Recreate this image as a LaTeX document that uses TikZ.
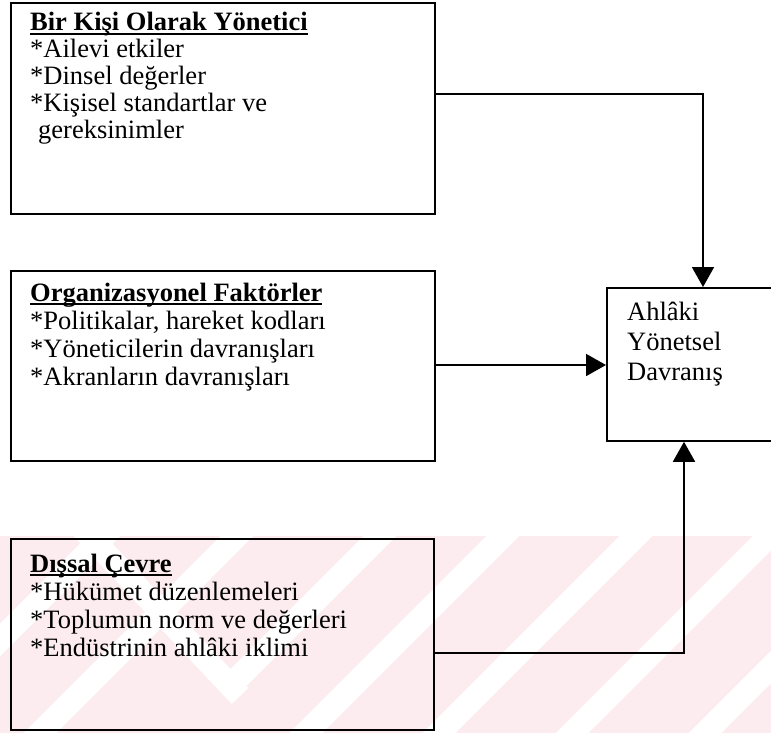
\documentclass[tikz,border=0pt]{standalone}
\usepackage{fontspec}
\setmainfont{Liberation Serif}
\usetikzlibrary{arrows.meta}
\definecolor{wmpink}{RGB}{252,236,239}
\newcommand\myul[1]{\setbox0\hbox{#1}\rlap{\rule[-4pt]{\wd0}{1.7pt}}\box0}
\tikzset{
  box/.style={draw=black, line width=1.8pt, rectangle, inner sep=0pt, anchor=north west},
  txt/.style={anchor=base west, inner sep=0pt, align=left, font=\fontsize{26.5}{27}\selectfont},
  txtb/.style={txt, font=\fontsize{26.5}{28}\selectfont},
  txtc/.style={txt, font=\fontsize{26.5}{30}\selectfont},
  arr/.style={line width=1.8pt, -{Triangle[length=20pt,width=22pt]}},
}
\begin{document}
\begin{tikzpicture}[x=1pt,y=-1pt]
\useasboundingbox (0,0) rectangle (771,733);
% watermark
\begin{scope}
\clip (0,536) rectangle (771,733);
\fill[wmpink] (0,536) rectangle (771,733);
\foreach \xx in {114,247,513,646,779,912}{
  \draw[white, line width=23pt] (\xx,526) -- (\xx-220,746);
}
\draw[white, line width=23pt] (390,526) -- (228,688);
\draw[white, line width=23pt] (80,526) -- (240,696);
\end{scope}
% boxes
\node[box, minimum width=424pt, minimum height=211pt] (b1) at (10,2) {};
\node[box, minimum width=424pt, minimum height=190pt] (b2) at (10,270) {};
\node[box, minimum width=423pt, minimum height=191pt] (b3) at (10,538) {};
\node[box, minimum width=180pt, minimum height=153pt] (t) at (606,287) {};
% texts (anchor = baseline of last line)
\node[txt] (b1t) at (30,139) {\textbf{\myul{Bir Kişi Olarak Yönetici}}\\*Ailevi etkiler\\*Dinsel değerler\\*Kişisel standartlar ve\\\hspace*{8pt}gereksinimler};
\node[txtb] (b2t) at (30,385) {\textbf{\myul{Organizasyonel Faktörler}}\\*Politikalar, hareket kodları\\*Yöneticilerin davranışları\\*Akranların davranışları};
\node[txtb] (b3t) at (30,656) {\textbf{\myul{Dışsal Çevre}}\\*Hükümet düzenlemeleri\\*Toplumun norm ve değerleri\\*Endüstrinin ahlâki iklimi};
\node[txtc] (tt) at (627,380) {Ahlâki\\Yönetsel\\Davranış};
% connectors
\coordinate (c1) at (703,94);
\coordinate (c3) at (684,653);
\draw[arr] (b1.east |- c1) -- (c1) -- (c1 |- t.north);
\draw[arr] (b2.east |- 0,365) -- (t.west |- 0,365);
\draw[arr] (b3.east |- c3) -- (c3) -- (c3 |- t.south);
\end{tikzpicture}
\end{document}
